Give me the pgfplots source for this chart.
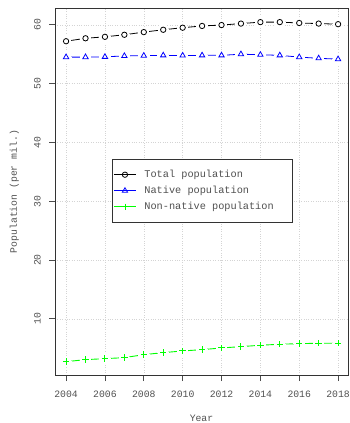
\documentclass[border=0pt]{standalone}
\usepackage{pgfplots}
\pgfplotsset{compat=1.18}
\usepackage{fontspec}
\setmainfont{Liberation Mono}
\definecolor{txt}{HTML}{505050}
\definecolor{ggrid}{HTML}{D4D4D4}
\pgfplotstableread{
year total native nonnative
2004 57.2  54.5  2.73
2005 57.7  54.5  3.07
2006 57.95 54.55 3.24
2007 58.3  54.7  3.41
2008 58.75 54.75 3.92
2009 59.15 54.8  4.26
2010 59.5  54.77 4.55
2011 59.8  54.8  4.77
2012 59.95 54.8  5.06
2013 60.2  55.0  5.28
2014 60.45 54.9  5.52
2015 60.45 54.8  5.69
2016 60.3  54.5  5.79
2017 60.2  54.3  5.86
2018 60.1  54.15 5.86
}\data
\begin{document}
\begin{tikzpicture}
\begin{axis}[
  at={(0,0)}, anchor=south west,
  scale only axis, width=293bp, height=367bp,
  xmin=2003.43, xmax=2018.51, ymin=0.46, ymax=62.85,
  xtick={2004,2006,...,2018},
  ytick={10,20,...,60},
  xticklabel style={/pgf/number format/1000 sep={}},
  /pgf/number format/assume math mode=true,
  tick label style={font=\fontsize{9.8}{11}\selectfont, text=txt},
  yticklabel style={rotate=90, anchor=south, inner sep=0pt},
  yticklabel shift=8bp,
  xticklabel style={anchor=north, inner sep=0pt},
  xticklabel shift=9.5bp,
  tick align=outside, tick pos=left,
  major tick length=6bp,
  every tick/.style={black!70, line width=0.8pt},
  axis line style={black!80, line width=0.8pt},
  grid=major, major grid style={ggrid, dotted, line width=0.5pt},
  xlabel={Year}, ylabel={Population (per mil.)},
  label style={font=\fontsize{9.8}{11}\selectfont, text=txt},
  xlabel style={at={(axis description cs:0.5,0)}, anchor=north, yshift=-40bp, inner sep=0pt},
  ylabel style={at={(axis description cs:0,0.5)}, anchor=south, yshift=36bp, inner sep=0pt},
  legend style={at={(axis cs:2006.35,37.1)}, anchor=north west, draw=black!80, line width=0.6pt,
    font=\fontsize{10.3}{11}\selectfont, text=txt, inner xsep=1.5pt, inner ysep=8.5pt,
    row sep=3.2pt, cells={anchor=west},
    /tikz/every odd column/.append style={column sep=6bp}},
  legend image code/.code={\draw[mark repeat=2,mark phase=2,#1] plot coordinates {(0bp,0bp)(11bp,0bp)(22bp,0bp)};},
]
% line with gaps round the marks
\addplot[forget plot, black, line width=0.8pt, mark=*, mark size=5.3pt, mark options={fill=white, draw=white, line width=0pt}] table[x=year,y=total] {\data};
\addplot[forget plot, only marks, black, mark=o, mark size=2.7pt, mark options={line width=0.8pt}] table[x=year,y=total] {\data};
\addplot[forget plot, blue, line width=0.8pt, mark=*, mark size=5.3pt, mark options={fill=white, draw=white, line width=0pt}] table[x=year,y=native] {\data};
\addplot[forget plot, only marks, blue, mark=triangle, mark size=3.1pt, mark options={line width=0.8pt}] table[x=year,y=native] {\data};
\addplot[forget plot, green, line width=0.9pt, mark=*, mark size=5.3pt, mark options={fill=white, draw=white, line width=0pt}] table[x=year,y=nonnative] {\data};
\addplot[forget plot, only marks, green, mark=+, mark size=3.2pt, mark options={line width=0.9pt}] table[x=year,y=nonnative] {\data};
\addlegendimage{black, line width=0.8pt, mark=o, mark size=2.7pt}
\addlegendentry{Total population}
\addlegendimage{blue, line width=0.8pt, mark=triangle, mark size=3.1pt}
\addlegendentry{Native population}
\addlegendimage{green, line width=0.9pt, mark=+, mark size=3.2pt}
\addlegendentry{Non-native population\hspace*{15bp}}
\end{axis}
\pgfresetboundingbox
\path (-55bp,-48bp) rectangle (295bp,375bp);
\end{tikzpicture}
\end{document}
